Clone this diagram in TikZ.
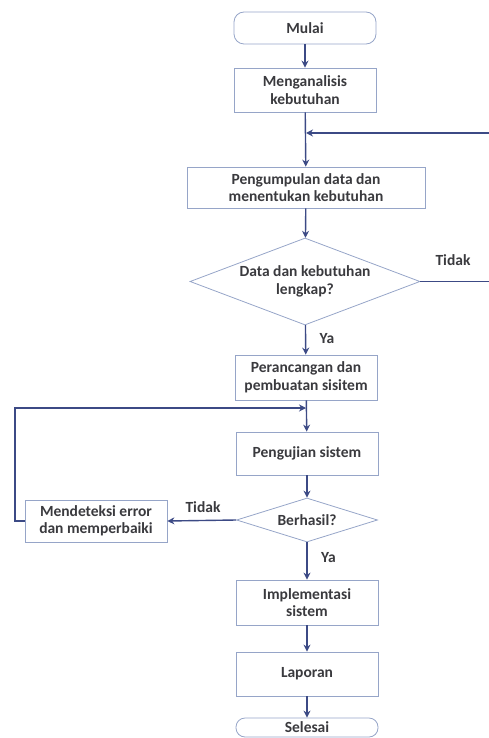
\documentclass[tikz,border=0pt]{standalone}
\usepackage{fontspec}
\setmainfont{Carlito}
\usepackage{xcolor}
\definecolor{fcline}{RGB}{60, 74, 133}
\definecolor{fcbox}{RGB}{150, 165, 200}
\definecolor{fctext}{RGB}{58, 58, 62}
\usetikzlibrary{arrows.meta, shapes.geometric}

\tikzset{
  base/.style={draw=fcbox, line width=0.8pt, font=\fontsize{15.5}{17.5}\selectfont\bfseries, text=fctext, align=center, inner sep=0pt},
  term/.style={base, rounded corners=10pt, minimum width=142pt},
  proc/.style={base, minimum width=142pt, minimum height=44pt},
  deci/.style={base, diamond, aspect=2.6},
  arr/.style={-{Stealth[length=7pt, width=7pt]}, draw=fcline, line width=1.4pt},
  lbl/.style={font=\fontsize{15.5}{17.5}\selectfont\bfseries, text=fctext}
}

\begin{document}
\begin{tikzpicture}[x=1pt, y=-1pt]
  \useasboundingbox (0,0) rectangle (488,738);

  % --- main column ---
  \node[term, minimum height=32pt] (mulai) at (305,28) {Mulai};
  \node[proc] (analisis) at (305,90) {Menganalisis\\kebutuhan};
  \node[proc, minimum width=238pt, minimum height=41pt] (kumpul) at (306,187.5) {Pengumpulan data dan\\menentukan kebutuhan};
  \node[deci, minimum width=230pt, minimum height=87pt] (lengkap) at (305,281.5) {Data dan kebutuhan\\lengkap?};
  \node[proc, minimum height=45pt] (rancang) at (306,377.5) {Perancangan dan\\pembuatan sisitem};
  \node[proc, minimum height=43pt] (uji) at (307,453.5) {Pengujian sistem};
  \node[deci, minimum width=141pt, minimum height=44pt] (hasil) at (307,520) {Berhasil?};
  \node[proc, minimum height=42pt] (deteksi) at (96,521) {Mendeteksi error\\dan memperbaiki};
  \node[proc, minimum height=45pt] (impl) at (307,602.5) {Implementasi\\sistem};
  \node[proc] (lapor) at (307,674) {Laporan};
  \node[term, minimum height=19pt, rounded corners=9pt] (selesai) at (307,727.5) {Selesai};

  % junction points of the loops
  \coordinate (j1) at (306,133);
  \coordinate (j2) at (306,408);

  % --- arrows ---
  \draw[arr] (mulai) -- (analisis);
  \draw[arr] (analisis) -- (kumpul);
  \draw[arr] (kumpul) -- (lengkap);
  \draw[arr] (lengkap) -- node[lbl, right=10pt, pos=0.45] (ya1) {Ya} (rancang);
  \draw[arr] (rancang) -- (uji);
  \draw[arr] (uji) -- (hasil);
  \draw[arr] (hasil) -- node[lbl, right=10pt, pos=0.4] (ya2) {Ya} (impl);
  \draw[arr] (impl) -- (lapor);
  \draw[arr] (lapor) -- (selesai);
  \draw[arr] (hasil.west) -- (deteksi.east);

  % loops back
  \draw[arr] (lengkap.east) -- (495,281.5) |- (j1);
  \draw[arr] (deteksi.west) -- (15,521) |- (j2);

  % labels
  \node[lbl] (tidak1) at (453,260) {Tidak};
  \node[lbl] (tidak2) at (203,507) {Tidak};
\end{tikzpicture}
\end{document}
